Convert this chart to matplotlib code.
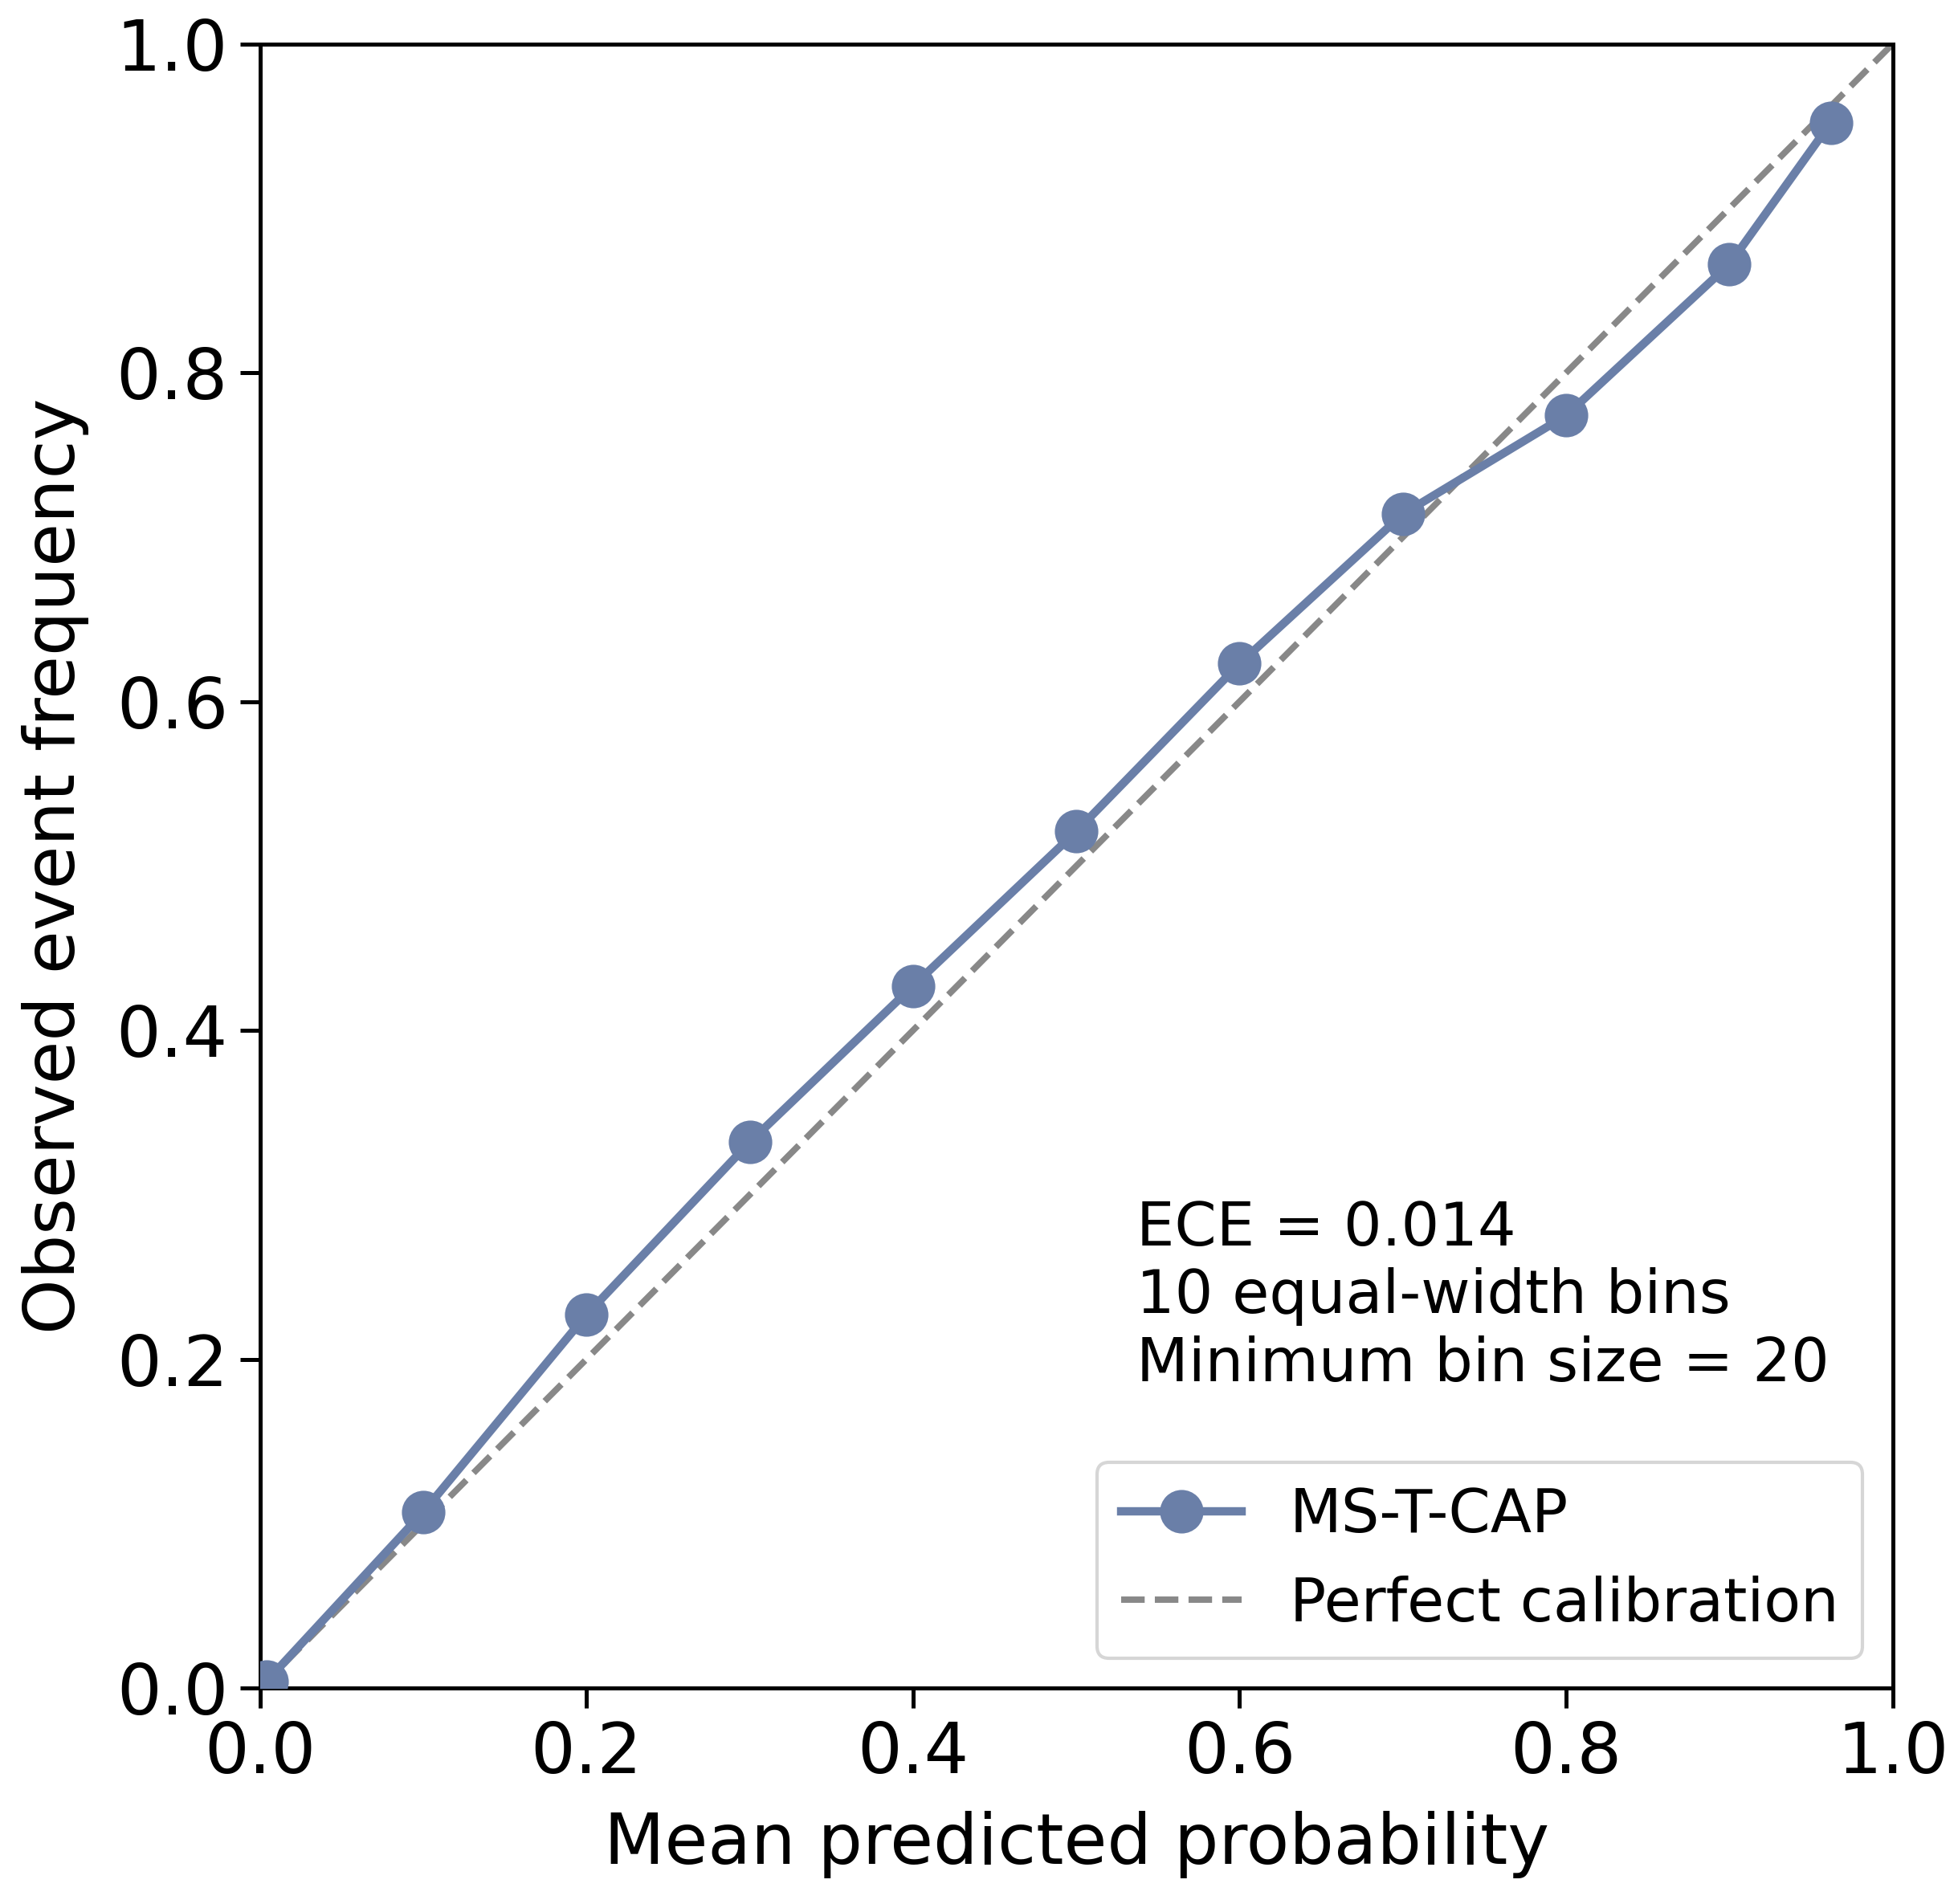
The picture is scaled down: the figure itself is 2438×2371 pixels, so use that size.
import matplotlib
matplotlib.use("Agg")
import matplotlib.pyplot as plt

mean_pred = [0.004, 0.10, 0.20, 0.30, 0.40, 0.50, 0.60, 0.70, 0.80, 0.90, 0.962]
obs_freq = [0.004, 0.107, 0.227, 0.332, 0.427, 0.521, 0.623, 0.714, 0.774, 0.866, 0.952]
diag = [0.0, 1.0]
ticks = [0.0, 0.2, 0.4, 0.6, 0.8, 1.0]
series_label = "MS-T-CAP"
ref_label = "Perfect calibration"
annotation = "ECE = 0.014\n10 equal-width bins\nMinimum bin size = 20"

plt.rcParams['font.family'] = ['DejaVu Sans']
fig = plt.figure(figsize=(2438/300, 2371/300), dpi=300)
ax = fig.add_axes([0.1327, 0.1134, 0.834, 0.8636])

ax.plot(mean_pred, obs_freq, marker='o', color='#6a7fa8', linewidth=2.5,
        markersize=12, label=series_label, zorder=3)
ax.plot(diag, diag, linestyle='--', color='#888888', linewidth=1.9,
        label=ref_label, zorder=2)

ax.set_xlim(0, 1)
ax.set_ylim(0, 1)
ax.set_xticks(ticks)
ax.set_yticks(ticks)
ax.set_xticklabels([f"{t:.1f}" for t in ticks])
ax.set_yticklabels([f"{t:.1f}" for t in ticks])
ax.tick_params(labelsize=21, width=1.2, length=6)
for s in ax.spines.values():
    s.set_linewidth(1.2)
ax.set_xlabel("Mean predicted probability", fontsize=21, labelpad=7)
ax.set_ylabel("Observed event frequency", fontsize=21, labelpad=8)

ax.text(0.537, 0.297, annotation, transform=ax.transAxes, fontsize=18,
        va='top', ha='left')
ax.legend(loc='lower right', fontsize=18, handlelength=2.0)

fig.savefig("out.png", dpi=300)
